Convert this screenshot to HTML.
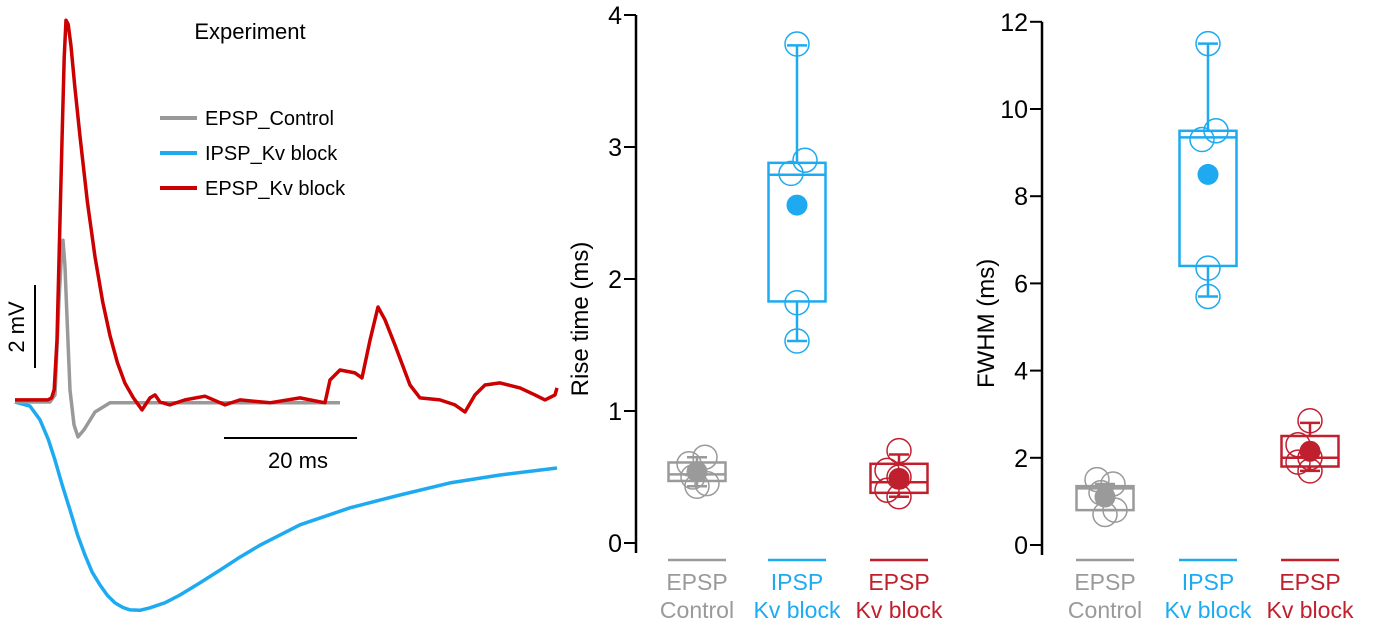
<!DOCTYPE html>
<html><head><meta charset="utf-8"><style>
html,body{margin:0;padding:0;background:#fff;}
svg{display:block;font-family:"Liberation Sans",Arial,sans-serif;}
</style></head><body>
<svg id="s" width="1374" height="626" viewBox="0 0 1374 626" xmlns="http://www.w3.org/2000/svg">
<g id="traces"></g>
<text x="250" y="39" font-size="22" text-anchor="middle">Experiment</text>
<g>
 <g><line x1="160" y1="118" x2="197" y2="118" stroke="#999" stroke-width="4"/><text x="205" y="125" font-size="20">EPSP_Control</text></g>
 <g><line x1="160" y1="153" x2="197" y2="153" stroke="#1eaaf1" stroke-width="4"/><text x="205" y="160" font-size="20">IPSP_Kv block</text></g>
 <g><line x1="160" y1="188" x2="197" y2="188" stroke="#cc0000" stroke-width="4"/><text x="205" y="195" font-size="20">EPSP_Kv block</text></g>
</g>
<g><line x1="35" y1="285" x2="35" y2="368" stroke="#000" stroke-width="2"/><text transform="translate(24,327) rotate(-90)" font-size="22" text-anchor="middle">2 mV</text></g>
<g><line x1="224" y1="438" x2="357" y2="438" stroke="#000" stroke-width="2"/><text x="298" y="468" font-size="22" text-anchor="middle">20 ms</text></g>
<g id="p1"></g>
<g id="p2"></g>
</svg>
<script>
// ---- trace data (ms, mV) ----
const redT=[0,4.96,5.5,5.9,6.32,6.7,7.07,7.4,7.67,8.0,8.4,9.0,9.77,10.9,12.03,13.2,14.29,15.4,16.54,17.8,19.1,20.3,21.05,21.8,23.3,25.56,28.57,31.58,33.83,38.35,42.86,44.36,46.62,47.37,48.87,51.13,52.18,53.38,54.59,55.64,57.14,59.4,60.9,63.9,66.17,67.67,69.17,70.68,72.93,75.94,78.2,79.7,81.2,81.5];
const redV=[0.05,0.05,0.1,0.3,1.5,4.0,6.3,8.3,9.2,9.1,8.6,7.6,6.4,4.8,3.5,2.4,1.6,0.95,0.45,0.1,-0.19,0.1,0.17,0,-0.07,0.05,0.14,-0.07,0.05,-0.02,0.1,0.05,-0.02,0.53,0.77,0.7,0.58,1.49,2.29,1.98,1.37,0.41,0.1,0.05,-0.07,-0.24,0.17,0.41,0.46,0.34,0.17,0.05,0.17,0.34];
const grayT=[0,5.26,6.02,6.62,7.0,7.22,7.5,7.8,8.27,8.87,9.47,10.38,12.03,14.29,48.87];
const grayV=[0,0,0.17,2.46,3.6,3.9,3.3,2.1,0.29,-0.55,-0.84,-0.67,-0.24,-0.02,-0.02];
const blueT=[0,2.26,3.76,5.0,6.02,7.1,8.27,9.4,10.53,11.6,12.78,13.9,15.04,16.2,17.29,18.8,20.3,22.5,24.81,27.8,30.83,33.8,36.84,42.86,50.38,57.89,65.41,72.93,81.5];
const blueV=[0,-0.1,-0.43,-0.9,-1.4,-2.0,-2.6,-3.2,-3.69,-4.1,-4.41,-4.66,-4.84,-4.95,-5.01,-5.02,-4.96,-4.84,-4.65,-4.36,-4.05,-3.74,-3.45,-2.96,-2.55,-2.24,-1.95,-1.76,-1.59];
// ---- summary data ----
const groups=["EPSP Control","IPSP Kv block","EPSP Kv block"];
const riseQ1=[0.47,1.83,0.38], riseMed=[0.52,2.79,0.46], riseQ3=[0.61,2.88,0.60];
const riseLo=[0.43,1.53,0.35], riseHi=[0.65,3.77,0.67], riseMean=[0.54,2.56,0.49];
const risePts=[[0.60,0.65,0.50,0.45,0.43],[3.78,2.90,2.80,1.82,1.53],[0.70,0.55,0.40,0.35,0.50]];
const fwQ1=[0.80,6.40,1.80], fwMed=[1.30,9.35,2.00], fwQ3=[1.35,9.50,2.50];
const fwLo=[0.80,5.70,1.70], fwHi=[1.40,11.50,2.80], fwMean=[1.10,8.50,2.15];
const fwPts=[[1.50,1.40,1.20,0.80,0.70],[11.50,9.50,9.30,6.35,5.70],[2.85,2.30,1.90,1.70,2.00]];
const riseTicks=[0,1,2,3,4], fwTicks=[0,2,4,6,8,10,12];

const NS="http://www.w3.org/2000/svg";
function mk(p,tag,a){const e=document.createElementNS(NS,tag);for(const k in a)e.setAttribute(k,a[k]);p.appendChild(e);return e;}
const tx=t=>15+6.65*t, ty=v=>402-41.5*v;
const tr=document.getElementById('traces');
function trace(T,V,col,name){
  const d=T.map((t,i)=>(i?'L':'M')+tx(t).toFixed(1)+','+ty(V[i]).toFixed(1)).join('');
  const p=mk(tr,'path',{d:d,fill:'none',stroke:col,'stroke-width':3.5,'stroke-linejoin':'round'});
  
  
}
trace(blueT,blueV,'#1eaaf1','ipsp-kv-trace');
trace(grayT,grayV,'#999999','epsp-control-trace');
trace(redT,redV,'#cc0000','epsp-kv-trace');

const cols=['#9a9a9a','#1eaaf1','#c0202e'];
const jit=[[-8,8,-4,10,0],[0,8,-6,0,0],[0,-12,-12,0,0]];
function panel(id,ax,y0,pxu,top,ticks,title,Q1,Med,Q3,Lo,Hi,Mean,Pts,cx){
  const g=document.getElementById(id);
  const y=v=>y0-pxu*v;
  const axl=mk(g,'line',{x1:ax,y1:y(ticks[ticks.length-1]),x2:ax,y2:y0+10,stroke:'#000','stroke-width':2.5});
  
  
  ticks.forEach(t=>{
    mk(g,'line',{x1:ax-12,y1:y(t),x2:ax,y2:y(t),stroke:'#000','stroke-width':2});
    const l=mk(g,'text',{x:ax-14,y:y(t)+9,'font-size':25,'text-anchor':'end'});l.textContent=t;
    
    
  });
  const tt=mk(g,'text',{transform:`translate(${ax-48},${(y(0)+y(ticks[ticks.length-1]))/2+40}) rotate(-90)`,'font-size':24,'text-anchor':'middle'});
  tt.textContent=title;
  
  
  groups.forEach((gname,i)=>{
    const c=cols[i],x=cx[i],w=57;
    const bg=mk(g,'g',{});
    
    
    mk(bg,'line',{x1:x,y1:y(Hi[i]),x2:x,y2:y(Q3[i]),stroke:c,'stroke-width':2.5});
    mk(bg,'line',{x1:x,y1:y(Lo[i]),x2:x,y2:y(Q1[i]),stroke:c,'stroke-width':2.5});
    mk(bg,'line',{x1:x-10,y1:y(Hi[i]),x2:x+10,y2:y(Hi[i]),stroke:c,'stroke-width':2.5});
    mk(bg,'line',{x1:x-10,y1:y(Lo[i]),x2:x+10,y2:y(Lo[i]),stroke:c,'stroke-width':2.5});
    mk(bg,'rect',{x:x-w/2,y:y(Q3[i]),width:w,height:y(Q1[i])-y(Q3[i]),fill:'none',stroke:c,'stroke-width':2.5});
    mk(bg,'line',{x1:x-w/2,y1:y(Med[i]),x2:x+w/2,y2:y(Med[i]),stroke:c,'stroke-width':2.5});
    Pts[i].forEach((v,j)=>{
      const pc=mk(bg,'circle',{cx:x+jit[i][j],cy:y(v),r:12,fill:'none',stroke:c,'stroke-width':1.5});
      
      
    });
    const m=mk(bg,'circle',{cx:x,cy:y(Mean[i]),r:10.5,fill:c});
    
    
    mk(g,'line',{x1:x-29,y1:560,x2:x+29,y2:560,stroke:c,'stroke-width':2.5});
    const parts=gname.split(' ');
    const l1=mk(g,'text',{x:x,y:590,'font-size':23,'text-anchor':'middle',fill:c});l1.textContent=parts[0];
    
    
    const l2=mk(g,'text',{x:x,y:618,'font-size':23,'text-anchor':'middle',fill:c});l2.textContent=parts.slice(1).join(' ');
    
    
  });
}
panel('p1',636,543,132,15,riseTicks,'Rise time (ms)',riseQ1,riseMed,riseQ3,riseLo,riseHi,riseMean,risePts,[697,797,899]);
panel('p2',1042,545,43.6,22,fwTicks,'FWHM (ms)',fwQ1,fwMed,fwQ3,fwLo,fwHi,fwMean,fwPts,[1105,1208,1310]);
</script>
</body></html>
